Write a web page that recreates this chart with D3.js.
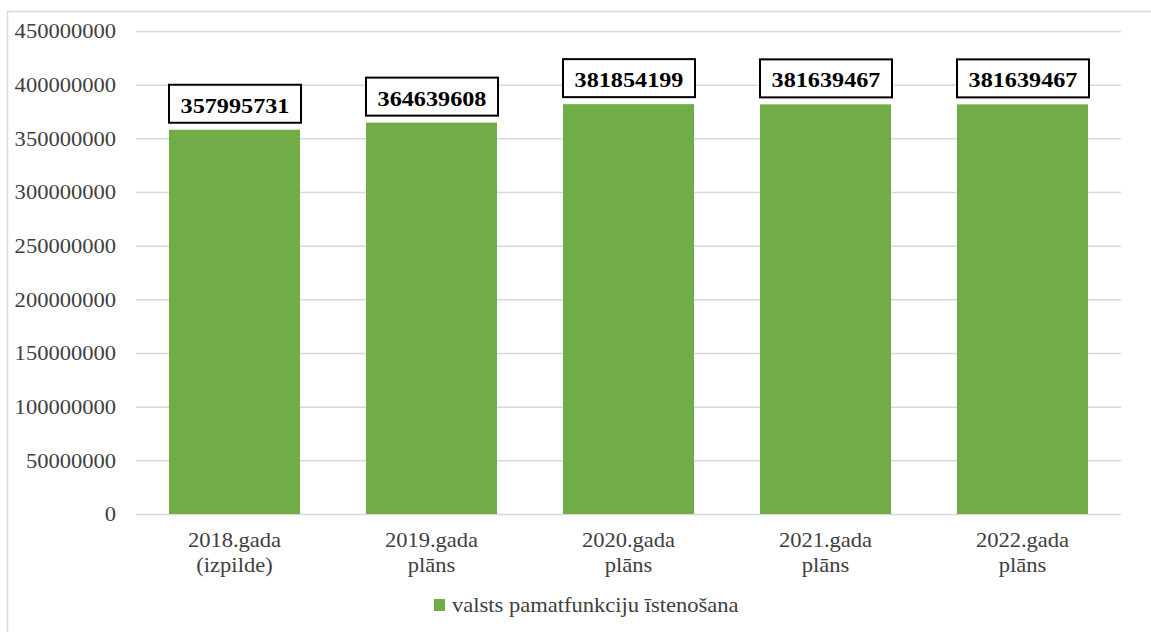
<!DOCTYPE html>
<html>
<head>
<meta charset="utf-8">
<script src="https://cdn.jsdelivr.net/npm/d3@7"></script>
<style>
  body { margin:0; background:#fff; }
  svg text { font-family:"Liberation Serif","Times New Roman",Tinos,"DejaVu Serif",serif; }
</style>
</head>
<body>
<div id="chart"></div>
<script>
// chart data
var categories = ["2018.gada|(izpilde)", "2019.gada|plāns", "2020.gada|plāns", "2021.gada|plāns", "2022.gada|plāns"];
var values = [357995731, 364639608, 381854199, 381639467, 381639467];
var seriesName = "valsts pamatfunkciju īstenošana";
var yTicks = [0, 50000000, 100000000, 150000000, 200000000, 250000000, 300000000, 350000000, 400000000, 450000000];

var chartW = 1151, chartH = 632;
var plotLeft = 136, plotRight = 1121, plotTop = 31, plotBottom = 514;
var stretch = 1.1; // text in the picture is a bit wider than normal
var green = "#70ad47", grid = "#d9d9d9", textGray = "#404040";

var svg = d3.select("#chart").append("svg")
  .attr("width", chartW)
  .attr("height", chartH);

// outer frame (only top and left edges show)
svg.append("path")
  .attr("d", "M7.5," + chartH + "V11.5H" + chartW)
  .attr("fill", "none")
  .attr("stroke", grid)
  .attr("stroke-width", 1.5);

var y = d3.scaleLinear().domain([0, 450000000]).range([plotBottom, plotTop]);
var x = d3.scaleBand().domain(categories).range([plotLeft, plotRight])
  .paddingInner(0.335).paddingOuter(0.1675);

// y axis with gridlines
var yAxis = svg.append("g")
  .attr("transform", "translate(" + plotLeft + ",0)")
  .call(d3.axisLeft(y).tickValues(yTicks).tickFormat(d3.format("d"))
    .tickSize(-(plotRight - plotLeft)).tickPadding(20 / stretch));
yAxis.attr("font-family", null).attr("font-size", null);
yAxis.select(".domain").remove();
yAxis.selectAll(".tick line").attr("stroke", grid).attr("stroke-width", 1.5);
yAxis.selectAll(".tick text")
  .attr("fill", textGray)
  .attr("font-size", "20.5px")
  .attr("dy", "0.34em")
  .attr("transform", "scale(" + stretch + ",1)");

// bars
svg.selectAll("rect.bar")
  .data(values)
  .enter()
  .append("rect")
  .attr("class", "bar")
  .attr("x", function(d, i) { return x(categories[i]); })
  .attr("width", x.bandwidth())
  .attr("y", function(d) { return y(d); })
  .attr("height", function(d) { return y(0) - y(d); })
  .attr("fill", green);

// value labels in boxes
var labels = svg.selectAll("g.vlabel")
  .data(values)
  .enter()
  .append("g")
  .attr("class", "vlabel")
  .attr("transform", function(d, i) {
    return "translate(" + x(categories[i]) + "," + (y(d) - 7) + ")";
  });
labels.append("rect")
  .attr("x", 0)
  .attr("y", -38)
  .attr("width", x.bandwidth() + 1)
  .attr("height", 38)
  .attr("fill", "#fff")
  .attr("stroke", "#000")
  .attr("stroke-width", 2);
labels.append("text")
  .attr("transform", "translate(" + (x.bandwidth() / 2 + 0.5) + ",-10) scale(" + stretch + ",1)")
  .attr("text-anchor", "middle")
  .attr("font-weight", "bold")
  .attr("font-size", "22px")
  .attr("fill", "#000")
  .text(function(d) { return d; });

// category labels (two lines)
var cats = svg.selectAll("g.cat")
  .data(categories)
  .enter()
  .append("g")
  .attr("class", "cat")
  .attr("transform", function(d) {
    return "translate(" + (x(d) + x.bandwidth() / 2) + ",0)";
  });
cats.each(function(d) {
  var lines = d.split("|");
  d3.select(this).selectAll("text")
    .data(lines)
    .enter()
    .append("text")
    .attr("transform", function(l, j) { return "translate(0," + (547 + j * 25) + ") scale(" + stretch + ",1)"; })
    .attr("text-anchor", "middle")
    .attr("font-size", "20.5px")
    .attr("fill", textGray)
    .text(function(l) { return l; });
});

// legend
var legend = svg.append("g").attr("transform", "translate(434,599)");
legend.append("rect")
  .attr("width", 11)
  .attr("height", 12)
  .attr("fill", green);
legend.append("text")
  .attr("transform", "translate(18,13) scale(" + stretch + ",1)")
  .attr("font-size", "20.5px")
  .attr("fill", textGray)
  .text(seriesName);
</script>
</body>
</html>
